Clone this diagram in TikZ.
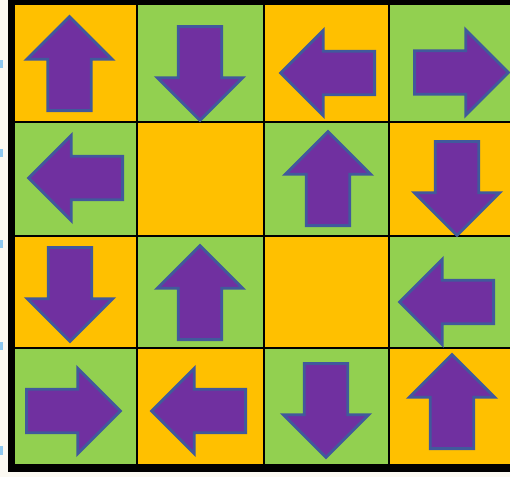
\documentclass[tikz,border=0pt]{standalone}
\usetikzlibrary{shapes.arrows}
\definecolor{tileyellow}{HTML}{FFC000}
\definecolor{tilegreen}{HTML}{92D050}
\definecolor{arrowpurple}{HTML}{7030A0}
\definecolor{arrowedge}{HTML}{41599C}
\definecolor{paper}{HTML}{FBF9F2}
\definecolor{tickblue}{HTML}{8EC8F0}
\tikzset{
  yel/.style      = {fill=tileyellow},
  grn/.style      = {fill=tilegreen},
  gridline/.style = {draw=black, line width=1.3pt},
  frame/.style    = {fill=black},
  blockarrow/.style = {single arrow, draw=arrowedge, line width=2.8pt,
                       fill=arrowpurple, minimum height=94pt, inner xsep=0pt,
                       inner ysep=20.3pt, single arrow head extend=21pt,
                       single arrow tip angle=90, line join=miter, anchor=tail},
}

\begin{document}
\begin{tikzpicture}[x=1pt, y=-1pt]
\useasboundingbox (0,0) rectangle (510,477);
\fill [paper] (0,0) rectangle (510,477);

% Ticks on the left edge
\fill [tickblue] (0,60) rectangle (3,68);
\fill [tickblue] (0,149) rectangle (3,157);
\fill [tickblue] (0,240) rectangle (3,248);
\fill [tickblue] (0,342) rectangle (3,350);
\fill [tickblue] (0,446) rectangle (3,455);

% Row 1
\fill [yel] (15,5) rectangle (137,122);
\fill [grn] (137,5) rectangle (264,122);
\fill [yel] (264,5) rectangle (389,122);
\fill [grn] (389,5) rectangle (510,122);
% Row 2
\fill [grn] (15,122) rectangle (137,236);
\fill [yel] (137,122) rectangle (264,236);
\fill [grn] (264,122) rectangle (389,236);
\fill [yel] (389,122) rectangle (510,236);
% Row 3
\fill [yel] (15,236) rectangle (137,348);
\fill [grn] (137,236) rectangle (264,348);
\fill [yel] (264,236) rectangle (389,348);
\fill [grn] (389,236) rectangle (510,348);
% Row 4
\fill [grn] (15,348) rectangle (137,464);
\fill [yel] (137,348) rectangle (264,464);
\fill [grn] (264,348) rectangle (389,464);
\fill [yel] (389,348) rectangle (510,464);

% Grid lines
\draw [gridline] (137,5) -- (137,464);
\draw [gridline] (264,5) -- (264,464);
\draw [gridline] (389,5) -- (389,464);
\draw [gridline] (15,122) -- (510,122);
\draw [gridline] (15,236) -- (510,236);
\draw [gridline] (15,348) -- (510,348);

% Outer frame
\fill [frame] (8,0) rectangle (15,472);
\fill [frame] (8,0) rectangle (510,5);
\fill [frame] (8,464) rectangle (510,472);

% Arrows, placed by their tails; row 1
\node (a11) [blockarrow, rotate=90]  at (69.5,112) {};
\node (a12) [blockarrow, rotate=-90] at (200,25)   {};
\node (a13) [blockarrow, rotate=180] at (376,73)   {};
\node (a14) [blockarrow]             at (413,72.5) {};
% Row 2
\node (a21) [blockarrow, rotate=180] at (124,178)  {};
\node (a23) [blockarrow, rotate=90]  at (328,227)  {};
\node (a24) [blockarrow, rotate=-90] at (457,140)  {};
% Row 3
\node (a31) [blockarrow, rotate=-90] at (70,246)   {};
\node (a32) [blockarrow, rotate=90]  at (200,341)  {};
\node (a34) [blockarrow, rotate=180] at (495,302)  {};
% Row 4
\node (a41) [blockarrow]             at (25,411)   {};
\node (a42) [blockarrow, rotate=180] at (247,411)  {};
\node (a43) [blockarrow, rotate=-90] at (326,362)  {};
\node (a44) [blockarrow, rotate=90]  at (452,450)  {};

\end{tikzpicture}
\end{document}
